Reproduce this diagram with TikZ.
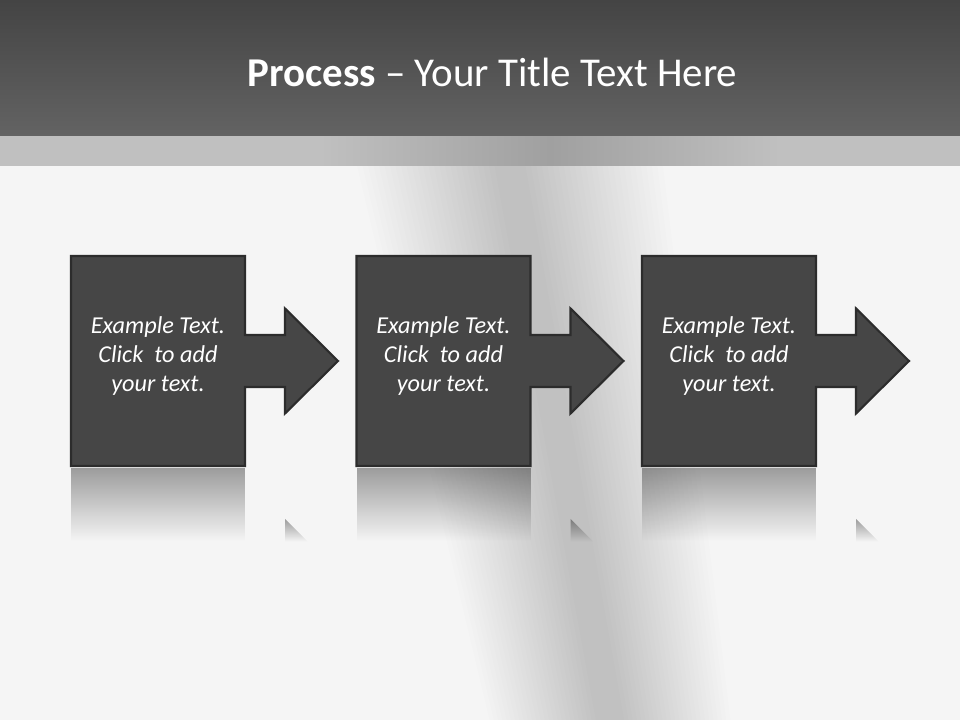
\documentclass[tikz,border=0pt]{standalone}
\usepackage{fontspec}
\setmainfont{Carlito}
\usetikzlibrary{positioning}
\usetikzlibrary{fadings}

\definecolor{bg}{HTML}{F5F5F5}
\definecolor{titletop}{HTML}{444444}
\definecolor{titlebot}{HTML}{636363}
\definecolor{bandgray}{HTML}{C0C0C0}
\definecolor{banddark}{HTML}{A0A0A0}
\definecolor{boxfill}{HTML}{464646}
\definecolor{boxline}{HTML}{2C2C2C}

\tikzfading[name=fade down, top color=transparent!0, bottom color=transparent!100]

\tikzstyle{stepbox} = [rectangle, minimum width=3.48cm, minimum height=4.2cm,
    inner sep=0pt, outer sep=0pt]
\tikzstyle{steptext} = [text=white, align=center,
    font=\fontsize{13.8}{16.4}\selectfont\itshape]
\tikzstyle{stepshape} = [fill=boxfill, draw=boxline, line width=1.2pt]
\tikzstyle{mirror} = [fill=black, opacity=0.36, path fading=fade down]
\tikzstyle{glow} = [fill=black, opacity=0.0075]
\tikzstyle{titletext} = [text=white, font=\fontsize{23.3}{28}\selectfont]

\begin{document}
\begin{tikzpicture}[node distance = 2.23cm]
        % Background
    \fill[bg] (0,0) rectangle (19.2,14.4);
    \foreach \w in {0.1,0.2,...,2.6} {
        \fill[glow] (10.2-0.2-1.1*\w,11.08) -- (10.2+0.2+1.1*\w,11.08)
            -- (12.2+0.2+0.85*\w,0) -- (12.2-0.2-0.85*\w,0) -- cycle;
    }
    \fill[bandgray] (0,11.08) rectangle (19.2,11.7);
    \shade[left color=bandgray, right color=bandgray, middle color=banddark]
        (6.4,11.08) rectangle (15.6,11.7);
    \shade[top color=titletop, bottom color=titlebot] (0,11.68) rectangle (19.2,14.4);
    \node[titletext, anchor=base] (title) at (9.85,12.66)
        {\textbf{Process} – Your Title Text Here};
        % Nodes
    \node[stepbox] (box1) at (3.16,7.18) {};
    \node[stepbox, right=of box1] (box2) {};
    \node[stepbox, right=of box2] (box3) {};
        % Shapes and reflections
    \foreach \b in {box1,box2,box3} {
        \fill[mirror] ([yshift=-0.04cm]\b.south west) rectangle ([yshift=-1.5cm]\b.south east);
        \fill[mirror] ([xshift=0.8cm,yshift=-1.06cm]\b.south east)
            -- ([xshift=1.25cm,yshift=-1.51cm]\b.south east)
            -- ([xshift=0.8cm,yshift=-1.51cm]\b.south east) -- cycle;
        \draw[stepshape] (\b.north west) -- (\b.north east)
            -- ([yshift=0.52cm]\b.east) -- ([xshift=0.8cm,yshift=0.52cm]\b.east)
            -- ([xshift=0.8cm,yshift=1.05cm]\b.east) -- ([xshift=1.86cm]\b.east)
            -- ([xshift=0.8cm,yshift=-1.05cm]\b.east) -- ([xshift=0.8cm,yshift=-0.52cm]\b.east)
            -- ([yshift=-0.52cm]\b.east) -- (\b.south east) -- (\b.south west) -- cycle;
    }
        % Texts
    \node[steptext] (text1) at ([yshift=0.1cm]box1.center) {Example Text.\\Click~ to add\\your text.};
    \node[steptext] (text2) at ([yshift=0.1cm]box2.center) {Example Text.\\Click~ to add\\your text.};
    \node[steptext] (text3) at ([yshift=0.1cm]box3.center) {Example Text.\\Click~ to add\\your text.};
\end{tikzpicture}
\end{document}
